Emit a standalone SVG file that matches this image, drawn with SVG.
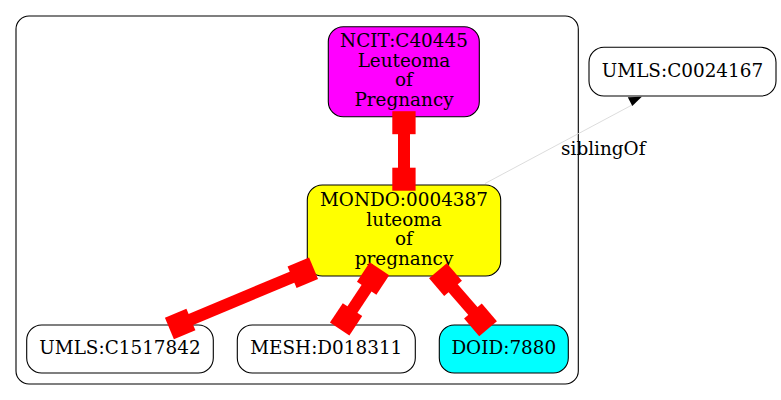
<svg xmlns="http://www.w3.org/2000/svg" width="781" height="400" viewBox="0 0 781 400">
<style>
.nd{stroke:#000;stroke-width:1.1}
.t{font-family:"DejaVu Serif","Liberation Serif",serif;font-size:18.4px;fill:#000;text-anchor:middle}
.re{stroke:#f00;stroke-width:12;fill:none}
.bx{fill:#f00}
</style>
<rect width="781" height="400" fill="#fff"/>
<g id="cluster">
<rect x="16" y="16" width="562.3" height="368" rx="13" fill="none" stroke="#000" stroke-width="1.1"/>
</g>
<g id="ncit">
<rect class="nd" x="328.3" y="26.7" width="151" height="90" rx="15" fill="#f0f"/>
<text class="t" x="404" y="46.7">NCIT:C40445</text>
<text class="t" x="404" y="66.5">Leuteoma</text>
<text class="t" x="404" y="86.2">of</text>
<text class="t" x="404" y="106">Pregnancy</text>
</g>
<g id="mondo">
<rect class="nd" x="307.3" y="185" width="193.4" height="91" rx="15" fill="#ff0"/>
<text class="t" x="404" y="205.7">MONDO:0004387</text>
<text class="t" x="404" y="225.5">luteoma</text>
<text class="t" x="404" y="245.3">of</text>
<text class="t" x="404" y="265">pregnancy</text>
</g>
<g id="umls1">
<rect class="nd" x="26.7" y="325" width="186.6" height="48" rx="15" fill="#fff"/>
<text class="t" x="120" y="354">UMLS:C1517842</text>
</g>
<g id="mesh">
<rect class="nd" x="237.3" y="325" width="178" height="48" rx="15" fill="#fff"/>
<text class="t" x="326.3" y="354">MESH:D018311</text>
</g>
<g id="doid">
<rect class="nd" x="439.3" y="325" width="129" height="48" rx="15" fill="#0ff"/>
<text class="t" x="503.8" y="354">DOID:7880</text>
</g>
<g id="umls2">
<rect class="nd" x="589" y="47.3" width="187" height="48.7" rx="15" fill="#fff"/>
<text class="t" x="682.5" y="77">UMLS:C0024167</text>
</g>
<g id="edges">
<line x1="485" y1="183.5" x2="632" y2="105" stroke="#d8d8d8" stroke-width="0.9"/>
<polygon points="627.8,97.3 641.8,96.8 632.3,106" fill="#000"/>
<text class="t" x="603.3" y="155">siblingOf</text>
<line class="re" x1="404" y1="122.7" x2="404" y2="179.2"/>
<rect class="bx" x="-11.7" y="-11.5" width="23.3" height="23" transform="translate(404,122.7)"/>
<rect class="bx" x="-11.7" y="-11.5" width="23.3" height="23" transform="translate(404,179.2)"/>
<line class="re" x1="302.75" y1="272.75" x2="180.1" y2="324"/>
<rect class="bx" x="-11.6" y="-11.6" width="23.3" height="23.3" transform="translate(302.75,272.75) rotate(-22.7)"/>
<rect class="bx" x="-11.6" y="-11.6" width="23.3" height="23.3" transform="translate(180.1,324) rotate(-22.7)"/>
<line class="re" x1="373" y1="278.5" x2="346" y2="319.3"/>
<rect class="bx" x="-11.6" y="-11.6" width="23.3" height="23.3" transform="translate(373,278.5) rotate(-56.5)"/>
<rect class="bx" x="-11.6" y="-11.6" width="23.3" height="23.3" transform="translate(346,319.3) rotate(-56.5)"/>
<line class="re" x1="445.5" y1="279.5" x2="480.5" y2="319.8"/>
<rect class="bx" x="-11.6" y="-11.6" width="23.3" height="23.3" transform="translate(445.5,279.5) rotate(49.5)"/>
<rect class="bx" x="-11.6" y="-11.6" width="23.3" height="23.3" transform="translate(480.5,319.8) rotate(49.5)"/>
</g>
</svg>
